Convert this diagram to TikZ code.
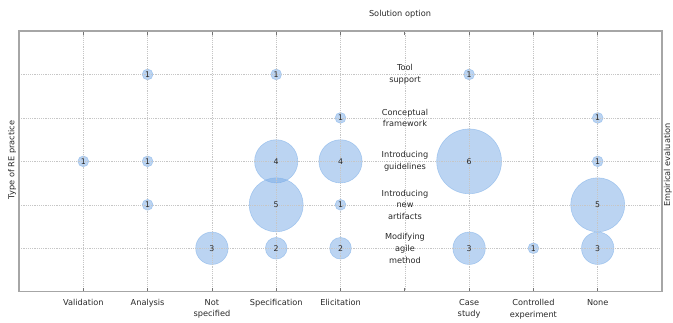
\documentclass[tikz,border=0pt]{standalone}
\usepackage{fontspec}
\setmainfont{DejaVu Sans}
\definecolor{bub}{RGB}{120,170,230}
\definecolor{bubedge}{RGB}{130,178,232}
\definecolor{txt}{RGB}{40,40,40}
\begin{document}
\begin{tikzpicture}[x=1pt,y=-1pt,
  lbl/.style={font=\fontsize{8.2}{11.7}\selectfont, text=txt, align=center, inner sep=0pt},
  num/.style={font=\fontsize{7.8}{9}\selectfont, text=txt, inner sep=0pt},
  bubble/.style={circle, inner sep=0pt, fill=bub, fill opacity=0.5, draw=bubedge, draw opacity=0.6, line width=0.6pt},
  gridline/.style={gray!45, line width=0.6pt, dash pattern=on 1.2pt off 1pt},
  frame/.style={gray!70, line width=1.1pt},
  tick/.style={gray!90!black, line width=0.7pt}]
\useasboundingbox (0,0) rectangle (673,322);
% bubbles
\foreach \c/\r/\v in {2/1/1, 4/1/1, 7/1/1, 5/2/1, 9/2/1, 1/3/1, 2/3/1, 4/3/4, 5/3/4, 7/3/6, 9/3/1, 2/4/1, 4/4/5, 5/4/1, 9/4/5, 3/5/3, 4/5/2, 5/5/2, 7/5/3, 8/5/1, 9/5/3}{
  \pgfmathsetmacro\d{10.8*\v}
  \node[bubble, minimum size=\d pt] (b\c-\r) at ({19+64.3*\c},{31+43.45*\r}) {};
}
% grid
\foreach \k in {1,...,9}{
  \draw[gridline] ({19+64.3*\k},31) -- ({19+64.3*\k},291.7);
  \draw[tick] ({19+64.3*\k},31) -- ({19+64.3*\k},35);
  \draw[tick] ({19+64.3*\k},291.7) -- ({19+64.3*\k},287.7);
}
\foreach \k in {1,...,5}{
  \draw[gridline] (19,{31+43.45*\k}) -- (662,{31+43.45*\k});
}
\draw[frame] (19,31) rectangle (662,291.7);
% numbers
\foreach \c/\r/\v in {2/1/1, 4/1/1, 7/1/1, 5/2/1, 9/2/1, 1/3/1, 2/3/1, 4/3/4, 5/3/4, 7/3/6, 9/3/1, 2/4/1, 4/4/5, 5/4/1, 9/4/5, 3/5/3, 4/5/2, 5/5/2, 7/5/3, 8/5/1, 9/5/3}{
  \node[num] (n\c-\r) at (b\c-\r) {\v};
}
% row labels
\node[lbl] (r1) at (405,74.5) {Tool\\support};
\node[lbl] (r2) at (405,118) {Conceptual\\framework};
\node[lbl] (r3) at (405,161.4) {Introducing\\guidelines};
\node[lbl] (r4) at (405,204.8) {Introducing\\new\\artifacts};
\node[lbl] (r5) at (405,248.3) {Modifying\\agile\\method};
% column labels
\foreach \k/\t in {1/Validation, 2/Analysis, 3/{Not\\specified}, 4/Specification, 5/Elicitation, 7/{Case\\study}, 8/{Controlled\\experiment}, 9/None}{
  \node[lbl, anchor=north] (c\k) at ({19+64.3*\k},299) {\t};
}
% axis titles
\node[lbl] (xt) at (400,14) {Solution option};
\node[lbl, rotate=90] (yt) at (12,160) {Type of RE practice};
\node[lbl, rotate=90] (zt) at (667.8,165) {Empirical evaluation};
\end{tikzpicture}
\end{document}
